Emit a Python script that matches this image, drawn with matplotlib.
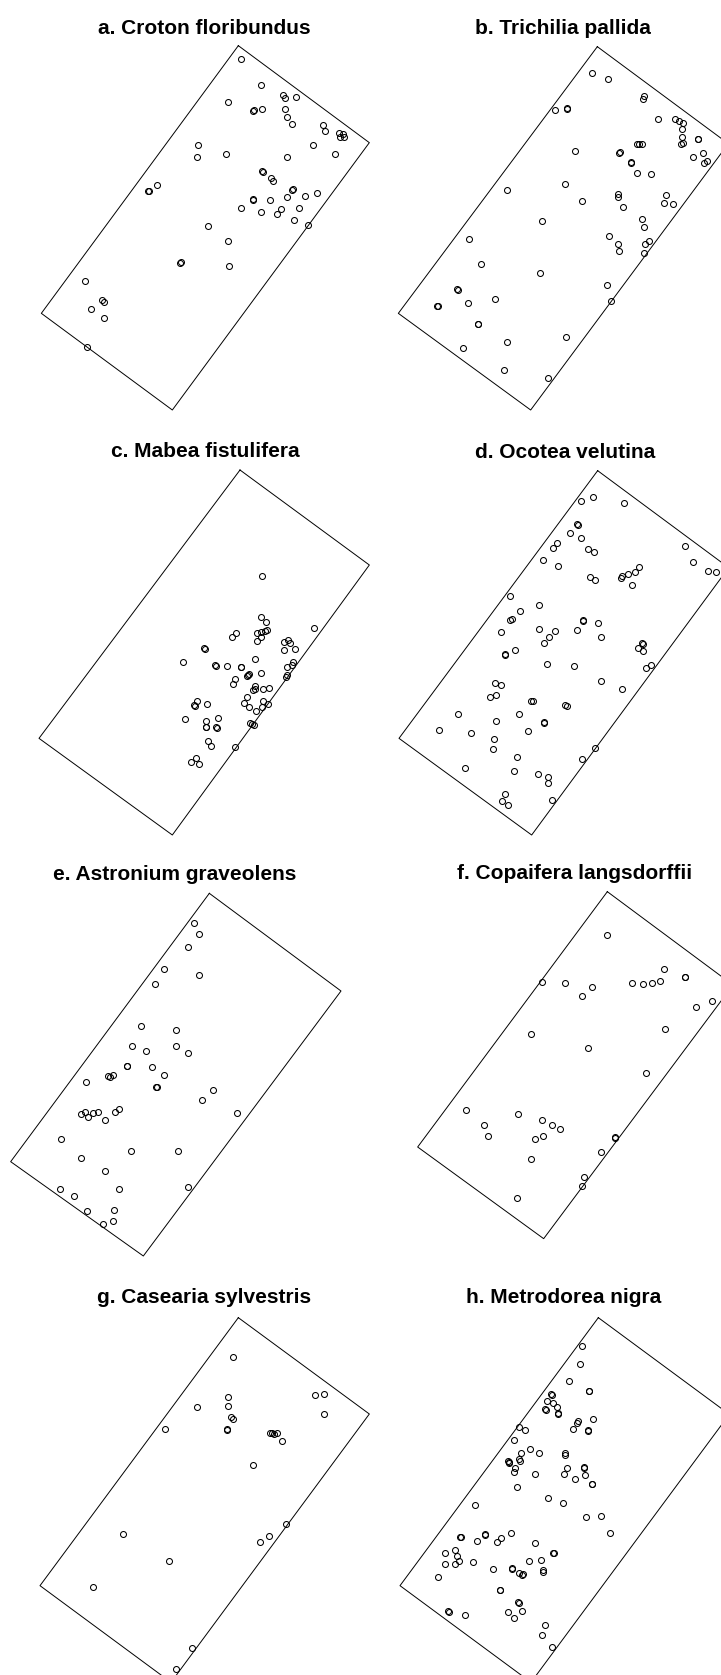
import numpy as np
import matplotlib
matplotlib.use('Agg')
import matplotlib.pyplot as plt

# Tree positions, in picture units (1/3 pixel) of each panel
titles = ['a. Croton floribundus', 'b. Trichilia pallida', 'c. Mabea fistulifera',
          'd. Ocotea velutina', 'e. Astronium graveolens', 'f. Copaifera langsdorffii',
          'g. Casearia sylvestris', 'h. Metrodorea nigra']

# plot boundary corners: top, right, bottom, left
rect_a = [(715, 137), (1108, 428), (517, 1230), (124, 940)]
rect_b = [(712, 140), (1105, 431), (512, 1230), (115, 940)]
rect_c = [(720, 150), (1108, 435), (517, 1245), (117, 955)]
rect_d = [(713, 152), (1106, 443), (515, 1245), (117, 955)]
rect_e = [(628, 160), (1023, 453), (430, 1248), (32, 965)]
rect_f = [(742, 155), (1119, 435), (551, 1196), (173, 921)]
rect_g = [(715, 173), (1108, 462), (513, 1267), (120, 977)]
rect_h = [(715, 173), (1108, 463), (513, 1267), (120, 977)]

trees_a = [(723, 177), (783, 254), (848, 284), (856, 294), (889, 291), (683, 307), (758, 334),
           (762, 331), (787, 328), (856, 327), (862, 352), (875, 372), (970, 375), (975, 394),
           (1018, 400), (1028, 403), (1020, 412), (1032, 412), (938, 435), (595, 435), (591, 472),
           (677, 462), (862, 472), (1005, 462), (789, 515), (787, 514), (814, 534), (820, 542),
           (880, 566), (876, 570), (472, 556), (445, 574), (447, 572), (952, 580), (915, 587),
           (862, 591), (758, 600), (760, 598), (810, 600), (723, 624), (783, 636), (843, 627),
           (832, 643), (897, 624), (882, 661), (923, 674), (623, 678), (683, 724), (541, 790),
           (543, 787), (687, 798), (256, 843), (307, 899), (312, 905), (272, 926), (313, 954),
           (262, 1042)]

trees_b = [(695, 218), (745, 237), (852, 287), (848, 296), (585, 330), (622, 326), (620, 324),
           (895, 357), (945, 357), (958, 363), (968, 370), (965, 388), (965, 410), (968, 430),
           (962, 433), (1015, 418), (1013, 416), (832, 431), (838, 431), (845, 431), (645, 452),
           (780, 457), (778, 459), (814, 488), (812, 486), (998, 470), (1028, 458), (1032, 490),
           (1040, 484), (831, 518), (872, 522), (615, 552), (442, 569), (665, 603), (775, 582),
           (773, 591), (789, 622), (918, 585), (913, 610), (938, 612), (845, 656), (851, 682),
           (545, 662), (328, 716), (748, 709), (775, 733), (778, 753), (868, 722), (855, 732),
           (851, 760), (362, 793), (541, 820), (741, 854), (290, 866), (293, 871), (232, 917),
           (234, 919), (325, 908), (405, 897), (752, 904), (355, 973), (353, 971), (441, 1025),
           (619, 1012), (309, 1045), (431, 1109), (565, 1133)]

trees_c = [(786, 468), (783, 590), (798, 605), (942, 625), (697, 650), (708, 638), (770, 638),
           (782, 636), (795, 632), (800, 630), (772, 662), (782, 650), (852, 667), (865, 660),
           (870, 668), (851, 690), (885, 686), (612, 685), (614, 687), (549, 725), (765, 716),
           (645, 735), (647, 737), (681, 737), (722, 740), (724, 742), (878, 727), (875, 735),
           (862, 740), (745, 766), (740, 767), (748, 762), (782, 758), (705, 776), (700, 792),
           (857, 772), (862, 765), (765, 797), (765, 808), (760, 810), (790, 806), (806, 805),
           (741, 830), (592, 843), (583, 855), (585, 857), (622, 853), (733, 849), (790, 843),
           (748, 862), (768, 872), (785, 860), (804, 853), (555, 896), (655, 893), (617, 902),
           (617, 920), (619, 922), (650, 925), (647, 920), (750, 908), (756, 912), (762, 915),
           (625, 963), (632, 978), (706, 980), (572, 1025), (588, 1015), (597, 1032)]

trees_d = [(663, 243), (700, 232), (793, 248), (652, 313), (653, 316), (630, 338), (662, 355),
           (590, 368), (580, 383), (683, 388), (703, 396), (975, 378), (549, 419), (593, 439),
           (1000, 425), (1043, 452), (1068, 457), (690, 472), (706, 480), (785, 468), (782, 474),
           (805, 463), (825, 455), (837, 442), (815, 495), (450, 527), (537, 556), (480, 573),
           (455, 597), (450, 601), (668, 600), (670, 603), (713, 610), (422, 636), (537, 628),
           (551, 670), (567, 652), (585, 634), (652, 630), (722, 651), (847, 668), (849, 671),
           (835, 684), (850, 693), (435, 702), (436, 705), (465, 691), (560, 731), (643, 738),
           (858, 743), (874, 734), (406, 790), (424, 796), (391, 831), (408, 826), (722, 784),
           (787, 808), (512, 842), (518, 844), (615, 855), (620, 857), (295, 883), (476, 883),
           (409, 903), (551, 907), (552, 909), (238, 930), (332, 940), (503, 933), (402, 957),
           (398, 987), (706, 983), (472, 1010), (665, 1017), (315, 1044), (462, 1053), (533, 1063),
           (563, 1070), (563, 1090), (435, 1122), (425, 1142), (443, 1155), (577, 1140)]

trees_e = [(582, 248), (598, 282), (565, 321), (492, 388), (598, 405), (464, 432), (422, 557),
           (528, 570), (395, 617), (437, 632), (528, 617), (565, 640), (380, 677), (382, 679),
           (455, 682), (492, 705), (325, 708), (338, 705), (330, 710), (258, 725), (467, 742),
           (470, 742), (640, 749), (605, 779), (243, 822), (256, 817), (278, 819), (294, 816),
           (265, 832), (315, 839), (345, 816), (357, 808), (712, 819), (184, 896), (393, 933),
           (533, 933), (244, 953), (315, 994), (180, 1048), (358, 1048), (563, 1041), (221, 1068),
           (261, 1113), (342, 1111), (308, 1152), (339, 1144)]

trees_f = [(742, 285), (545, 426), (615, 429), (695, 441), (666, 467), (816, 429), (848, 432),
           (876, 429), (899, 422), (912, 387), (975, 410), (976, 412), (1008, 502), (1055, 483),
           (915, 567), (512, 583), (685, 625), (857, 698), (318, 810), (475, 823), (545, 839),
           (577, 855), (599, 867), (372, 855), (385, 889), (525, 896), (549, 889), (765, 891),
           (766, 893), (723, 935), (512, 958), (673, 1012), (666, 1037), (472, 1073)]

trees_g = [(700, 290), (683, 410), (683, 437), (590, 440), (946, 406), (973, 403), (973, 463),
           (692, 470), (700, 478), (495, 508), (682, 508), (682, 511), (810, 518), (815, 520),
           (822, 522), (832, 520), (846, 542), (760, 615), (857, 792), (369, 823), (806, 829),
           (780, 846), (506, 904), (279, 980), (577, 1165), (529, 1228)]

trees_h = [(666, 258), (660, 313), (626, 362), (688, 393), (686, 393), (573, 403), (575, 406),
           (562, 422), (578, 430), (591, 440), (556, 448), (557, 450), (593, 460), (594, 462),
           (653, 483), (652, 490), (700, 478), (640, 506), (683, 510), (684, 512), (477, 500),
           (495, 511), (462, 541), (510, 568), (536, 578), (483, 580), (615, 580), (616, 584),
           (445, 602), (446, 605), (447, 608), (480, 603), (476, 598), (465, 625), (462, 636),
           (525, 641), (622, 625), (613, 643), (646, 656), (672, 622), (673, 625), (676, 645),
           (695, 671), (696, 673), (470, 682), (563, 715), (608, 728), (345, 736), (677, 772),
           (722, 767), (750, 820), (452, 820), (301, 830), (302, 832), (375, 822), (376, 824),
           (352, 842), (422, 833), (412, 847), (525, 850), (255, 880), (285, 870), (290, 887),
           (580, 878), (581, 880), (255, 913), (285, 913), (298, 903), (340, 907), (507, 904),
           (542, 900), (550, 930), (548, 935), (398, 927), (455, 925), (456, 927), (478, 940),
           (485, 945), (490, 942), (235, 950), (419, 989), (420, 991), (475, 1027), (477, 1030),
           (485, 1054), (444, 1057), (462, 1074), (265, 1053), (266, 1056), (315, 1064),
           (556, 1095), (545, 1125), (576, 1162)]

rects = [rect_a, rect_b, rect_c, rect_d, rect_e, rect_f, rect_g, rect_h]
trees = [trees_a, trees_b, trees_c, trees_d, trees_e, trees_f, trees_g, trees_h]

# layout in output pixels: panel box (x0, y0, w, h) and title centre / baseline
W, H = 721, 1675
boxes = [(0, 0, 370, 420), (360, 0, 361, 420), (0, 420, 370, 420), (360, 420, 361, 420),
         (0, 840, 370, 420), (360, 840, 361, 420), (0, 1260, 370, 415), (360, 1260, 361, 415)]
title_pos = [(204.7, 34), (562.7, 34), (205.7, 457), (565, 458),
             (175, 880), (575, 879), (204, 1303), (564, 1303)]

fig = plt.figure(figsize=(W / 100, H / 100), dpi=100)

for title, rect, pts, box, tpos in zip(titles, rects, trees, boxes, title_pos):
    x0, y0, w, h = box
    ax = fig.add_axes([x0 / W, 1 - (y0 + h) / H, w / W, h / H])
    ax.set_xlim(0, 3 * w)
    ax.set_ylim(3 * h, 0)
    ax.axis('off')
    ax.patch.set_alpha(0)

    corners = np.array(rect + rect[:1])
    ax.plot(corners[:, 0], corners[:, 1], color='black', lw=0.7, clip_on=False)

    pts = np.array(pts)
    ax.plot(pts[:, 0], pts[:, 1], 'o', mfc='none', mec='black', ms=4.3, mew=0.75,
            clip_on=False)

    fig.text(tpos[0] / W, 1 - tpos[1] / H, title, ha='center', va='baseline',
             fontsize=15, fontweight='bold', family=['Liberation Sans', 'DejaVu Sans'])

fig.savefig('out.png', dpi=100, facecolor='white')
